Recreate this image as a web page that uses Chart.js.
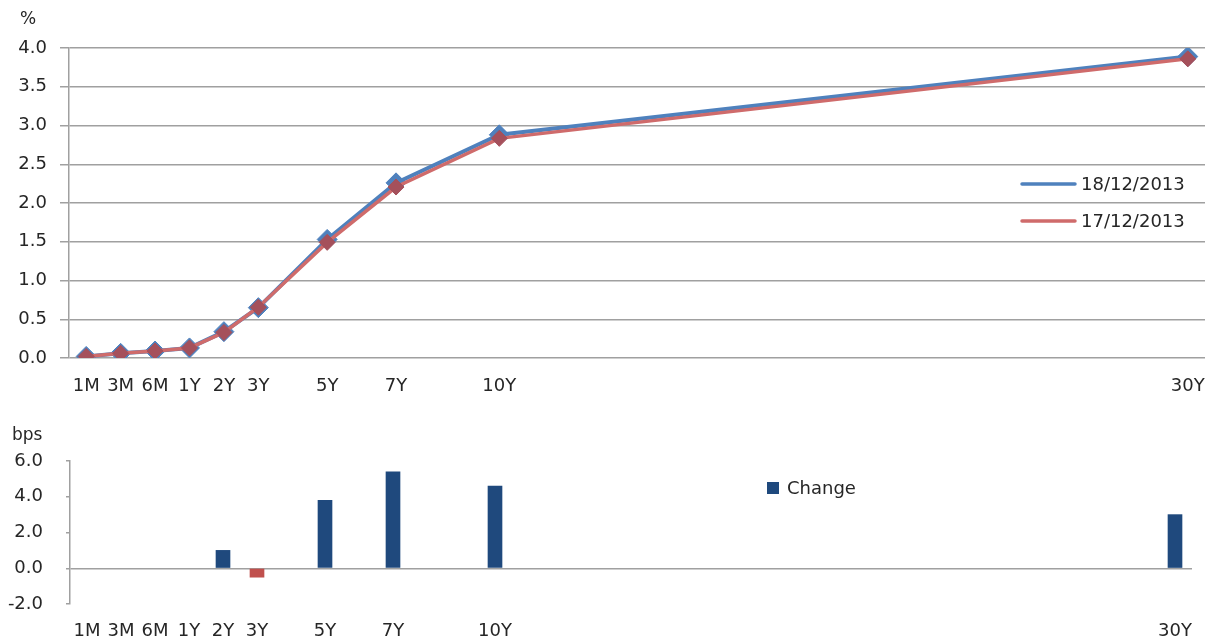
<!DOCTYPE html>
<html>
<head>
<meta charset="utf-8">
<script src="https://cdn.jsdelivr.net/npm/chart.js@4.4.1/dist/chart.umd.min.js"></script>
<style>
  html, body { margin: 0; padding: 0; background: #fff; }
  #wrap { position: relative; width: 1216px; height: 639px; overflow: hidden; }
  #curve { position: absolute; left: 0; top: 0; }
  #change { position: absolute; left: 0; top: 400px; }
</style>
</head>
<body>
<div id="wrap">
  <canvas id="curve" width="1216" height="400"></canvas>
  <canvas id="change" width="1216" height="239"></canvas>
</div>
<script>
// Maturity buckets and where each sits along the maturity axis
const tenors   = ['1M', '3M', '6M', '1Y', '2Y', '3Y', '5Y', '7Y', '10Y', '30Y'];
const tenorPos = [-2, -1, 0, 1, 2, 3, 5, 7, 10, 30];

// Yields in percent
const yield18Dec = [0.02, 0.06, 0.09, 0.13, 0.34, 0.65, 1.53, 2.26, 2.88, 3.89];
const yield17Dec = [0.02, 0.06, 0.09, 0.13, 0.33, 0.655, 1.492, 2.206, 2.834, 3.86];

// Daily change in basis points
const changeBps = [null, null, null, null, 1.0, -0.5, 3.8, 5.4, 4.6, 3.0];

// Value-axis ticks
const yieldTicks = [0, 0.5, 1.0, 1.5, 2.0, 2.5, 3.0, 3.5, 4.0];
const bpsTicks   = [-2, 0, 2, 4, 6];

const seriesNames = ['18/12/2013', '17/12/2013'];

const FONT = 'DejaVu Sans';
const TEXT = '#262626';
const GRID = '#A0A0A0';
const BLUE_LINE = '#4F81BD';
const RED_LINE = '#CF6B6B';
const RED_MARK = '#A5505B';
const BAR_UP = '#1F497D';
const BAR_DOWN = '#C0504D';

Chart.defaults.font.family = FONT;
Chart.defaults.font.size = 18;
Chart.defaults.color = TEXT;
Chart.defaults.animation = false;

const tenorLabel = v => {
  const i = tenorPos.indexOf(v);
  return i >= 0 ? tenors[i] : '';
};
const tenorTicks = scale => { scale.ticks = tenorPos.map(v => ({ value: v })); };

function points(values) {
  return tenorPos.map((x, i) => ({ x, y: values[i] })).filter(p => p.y !== null);
}

// Unit caption over the value axis
const unitCaption = {
  id: 'unitCaption',
  afterDraw(chart, args, opts) {
    const ctx = chart.ctx;
    ctx.save();
    ctx.font = `17px ${FONT}`;
    ctx.fillStyle = TEXT;
    ctx.textBaseline = 'middle';
    ctx.textAlign = 'left';
    ctx.fillText(opts.text, opts.x, opts.y);
    ctx.restore();
  }
};

// Legend drawn inside the plot area (line samples or filled squares)
const innerLegend = {
  id: 'innerLegend',
  afterDraw(chart, args, opts) {
    const ctx = chart.ctx;
    ctx.save();
    ctx.font = `18px ${FONT}`;
    ctx.fillStyle = TEXT;
    ctx.textBaseline = 'middle';
    ctx.textAlign = 'left';
    chart.data.datasets.forEach((ds, i) => {
      const y = opts.y + i * opts.gap;
      if (opts.kind === 'line') {
        ctx.strokeStyle = ds.borderColor;
        ctx.lineWidth = 3.5;
        ctx.lineCap = 'round';
        ctx.beginPath();
        ctx.moveTo(opts.x, y);
        ctx.lineTo(opts.x + opts.sample, y);
        ctx.stroke();
      } else {
        ctx.fillStyle = opts.swatch;
        ctx.fillRect(opts.x, y - 6, 12, 12);
      }
      ctx.fillStyle = TEXT;
      ctx.fillText(ds.label, opts.x + opts.sample + 6, y + 1);
    });
    ctx.restore();
  }
};

new Chart(document.getElementById('curve'), {
  type: 'line',
  data: {
    datasets: [
      {
        label: seriesNames[0],
        data: points(yield18Dec),
        borderColor: BLUE_LINE,
        backgroundColor: BLUE_LINE,
        borderWidth: 4,
        pointStyle: 'rectRot',
        pointRadius: 10,
        pointBackgroundColor: BLUE_LINE,
        pointBorderColor: BLUE_LINE,
        pointBorderWidth: 1,
        order: 1
      },
      {
        label: seriesNames[1],
        data: points(yield17Dec),
        borderColor: RED_LINE,
        backgroundColor: RED_LINE,
        borderWidth: 3.5,
        pointStyle: 'rectRot',
        pointRadius: 8,
        pointBackgroundColor: RED_MARK,
        pointBorderColor: RED_MARK,
        pointBorderWidth: 1,
        order: 0
      }
    ]
  },
  options: {
    responsive: false,
    layout: { padding: { top: 48, right: 9, left: 0, bottom: 0 } },
    plugins: {
      legend: { display: false },
      tooltip: { enabled: false },
      unitCaption: { text: '%', x: 20, y: 20 },
      innerLegend: { kind: 'line', x: 1022, y: 184, gap: 37, sample: 53 }
    },
    scales: {
      x: {
        type: 'linear',
        min: -2.5,
        max: 30.5,
        afterBuildTicks: tenorTicks,
        afterFit: s => { s.height = 42; },
        grid: { display: false },
        border: { display: false },
        ticks: { autoSkip: false, maxRotation: 0, padding: 10, callback: tenorLabel }
      },
      y: {
        min: 0,
        max: 4,
        afterBuildTicks: s => { s.ticks = yieldTicks.map(v => ({ value: v })); },
        afterFit: s => { s.width = 69; },
        grid: { color: GRID, lineWidth: 1.5, tickLength: 9, tickColor: GRID },
        border: { color: GRID, width: 1.5 },
        ticks: { padding: 13, callback: v => v.toFixed(1) }
      }
    }
  },
  plugins: [unitCaption, innerLegend]
});

new Chart(document.getElementById('change'), {
  type: 'bar',
  data: {
    datasets: [
      {
        label: 'Change',
        data: points(changeBps),
        backgroundColor: ctx => (ctx.raw && ctx.raw.y < 0 ? BAR_DOWN : BAR_UP),
        borderWidth: 0,
        barThickness: 14
      }
    ]
  },
  options: {
    responsive: false,
    layout: { padding: { top: 61, right: 24, left: 0, bottom: 0 } },
    plugins: {
      legend: { display: false },
      tooltip: { enabled: false },
      unitCaption: { text: 'bps', x: 12, y: 36 },
      innerLegend: { kind: 'box', x: 767, y: 88, gap: 0, sample: 14, swatch: BAR_UP }
    },
    scales: {
      x: {
        type: 'linear',
        offset: false,
        min: -2.5,
        max: 30.5,
        afterBuildTicks: tenorTicks,
        afterFit: s => { s.height = 35; },
        grid: { display: false },
        border: { display: false },
        ticks: { autoSkip: false, maxRotation: 0, padding: 9, callback: tenorLabel }
      },
      y: {
        min: -2,
        max: 6,
        afterBuildTicks: s => { s.ticks = bpsTicks.map(v => ({ value: v })); },
        afterFit: s => { s.width = 70; },
        grid: {
          color: c => (c.tick && c.tick.value === 0 ? GRID : 'rgba(0,0,0,0)'),
          lineWidth: 1.5,
          tickLength: 4,
          tickColor: GRID
        },
        border: { color: GRID, width: 1.5 },
        ticks: { padding: 23, callback: v => v.toFixed(1) }
      }
    }
  },
  plugins: [unitCaption, innerLegend]
});
</script>
</body>
</html>
